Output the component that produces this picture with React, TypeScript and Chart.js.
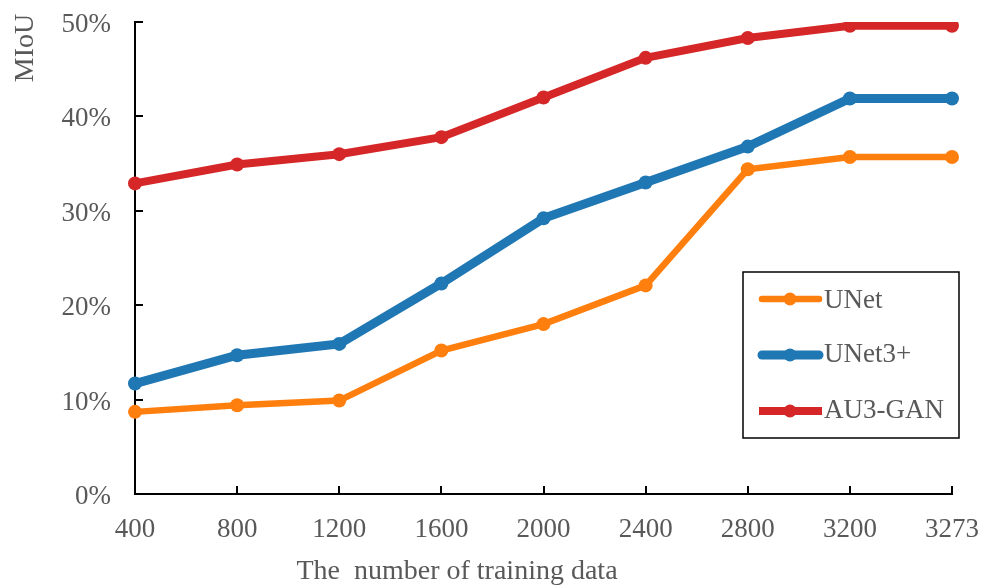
import React, { useEffect, useRef } from "react";
import { Chart, registerables } from "chart.js";

Chart.register(...registerables);

const categories = ["400", "800", "1200", "1600", "2000", "2400", "2800", "3200", "3273"];
const unet = [8.7, 9.4, 9.9, 15.2, 18.0, 22.1, 34.4, 35.7, 35.7];
const unet3 = [11.7, 14.7, 15.9, 22.3, 29.2, 33.0, 36.8, 41.9, 41.9];
const au3gan = [32.9, 34.9, 36.0, 37.8, 42.0, 46.2, 48.3, 49.6, 49.6];
const seriesNames = ["UNet", "UNet3+", "AU3-GAN"];
const seriesColors = ["#ff7f0e", "#1f77b4", "#d62728"];
const seriesWidths = [6.5, 9, 8];
const legendWidths = [6.5, 9, 8];
const yTitle = "MIoU";
const xTitle = "The  number of training data";

const FONT = "'Liberation Serif', 'Times New Roman', serif";
const GREY = "#595959";
const FS = 27;

const decorPlugin = {
  id: "decor",
  afterDraw(chart: any) {
    const ctx = chart.ctx;
    const xs = chart.scales.x;
    const ys = chart.scales.y;
    const area = chart.chartArea;
    ctx.save();
    ctx.strokeStyle = "#000";
    ctx.lineWidth = 2;
    ys.ticks.forEach((_t: any, i: number) => {
      const y = Math.round(ys.getPixelForTick(i));
      ctx.beginPath();
      ctx.moveTo(area.left, y);
      ctx.lineTo(area.left + 8, y);
      ctx.stroke();
    });
    xs.ticks.forEach((_t: any, i: number) => {
      const x = Math.round(xs.getPixelForTick(i));
      ctx.beginPath();
      ctx.moveTo(x, area.bottom);
      ctx.lineTo(x, area.bottom - 8);
      ctx.stroke();
    });
    // tick labels
    ctx.fillStyle = GREY;
    ctx.font = `${FS}px ${FONT}`;
    ctx.textBaseline = "alphabetic";
    ctx.textAlign = "right";
    ys.ticks.forEach((t: any, i: number) => {
      const y = ys.getPixelForTick(i);
      ctx.fillText(t.value + "%", 111, y + 10);
    });
    ctx.textAlign = "center";
    xs.ticks.forEach((_t: any, i: number) => {
      const x = xs.getPixelForTick(i);
      ctx.fillText(String(xs.getLabelForValue(i)), x, area.bottom + 43);
    });
    // titles
    ctx.font = `28px ${FONT}`;
    ctx.textAlign = "center";
    ctx.fillText(xTitle, 457, 579);
    ctx.save();
    ctx.translate(33, 48);
    ctx.rotate(-Math.PI / 2);
    ctx.fillText(yTitle, 0, 0);
    ctx.restore();
    // legend
    const bx = 743, by = 272, bw = 216, bh = 166;
    ctx.fillStyle = "#fff";
    ctx.fillRect(bx, by, bw, bh);
    ctx.strokeStyle = "#000";
    ctx.lineWidth = 1.5;
    ctx.strokeRect(bx, by, bw, bh);
    const rows = [299, 355, 411];
    const bases = [308, 362, 418];
    seriesNames.forEach((name, i) => {
      const y = rows[i];
      ctx.strokeStyle = seriesColors[i];
      ctx.lineWidth = legendWidths[i];
      ctx.lineCap = i === 2 ? "butt" : "round";
      ctx.beginPath();
      ctx.moveTo(i === 2 ? 759 : 762, y);
      ctx.lineTo(i === 2 ? 822 : 819, y);
      ctx.stroke();
      ctx.fillStyle = seriesColors[i];
      ctx.beginPath();
      ctx.arc(790, y, 6.5, 0, Math.PI * 2);
      ctx.fill();
      ctx.fillStyle = GREY;
      ctx.textAlign = "left";
      ctx.textBaseline = "alphabetic";
      ctx.font = `${FS}px ${FONT}`;
      ctx.fillText(name, 824, bases[i]);
    });
    ctx.restore();
  },
};

export default function App() {
  const ref = useRef<HTMLCanvasElement>(null);
  useEffect(() => {
    const data = [unet, unet3, au3gan];
    const chart = new Chart(ref.current!, {
      type: "line",
      data: {
        labels: categories,
        datasets: seriesNames.map((n, i) => ({
          label: n,
          data: data[i],
          borderColor: seriesColors[i],
          backgroundColor: seriesColors[i],
          borderWidth: seriesWidths[i],
          pointRadius: 7,
          pointBorderWidth: 0,
          pointBackgroundColor: seriesColors[i],
          tension: 0,
          order: 3 - i,
        })),
      },
      options: {
        animation: false,
        responsive: false,
        maintainAspectRatio: false,
        layout: { padding: { left: 0, right: 37, top: 22, bottom: 0 } },
        plugins: { legend: { display: false }, tooltip: { enabled: false } },
        scales: {
          x: {
            type: "category",
            offset: false,
            grid: { display: true, drawOnChartArea: false, drawTicks: false },
            border: { display: true, color: "#000", width: 2 },
            ticks: { display: false, autoSkip: false },
            afterFit: (s: any) => { s.height = 92; },
          },
          y: {
            min: 0,
            max: 50,
            grid: { display: true, drawOnChartArea: false, drawTicks: false },
            border: { display: true, color: "#000", width: 2 },
            ticks: { display: false, stepSize: 10 },
            afterFit: (s: any) => { s.width = 135; },
          },
        },
      },
      plugins: [decorPlugin],
    });
    return () => chart.destroy();
  }, []);
  return (
    <div style={{ position: "fixed", left: 0, top: 0, width: 989, height: 586, background: "#fff" }}>
      <canvas ref={ref} width={989} height={586} style={{ width: 989, height: 586 }} />
    </div>
  );
}
